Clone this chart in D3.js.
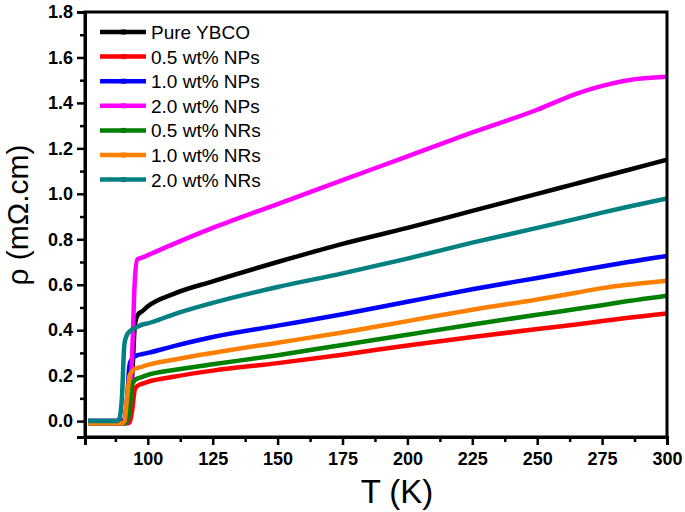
<!DOCTYPE html>
<html>
<head>
  <meta charset="UTF-8">
  <title>Resistivity vs T</title>
  <script src="https://cdn.jsdelivr.net/npm/d3@7"></script>
  <style>
    body { margin: 0; background: #fff; }
    text { font-family: Arial, "Liberation Sans", sans-serif; }
  </style>
</head>
<body>
<div class="chart"></div>
<script>
  // temperatures (K)
  var temps = [77, 80, 85, 88, 89, 90, 91, 92, 93, 94, 95, 96, 98, 100, 110, 125, 150, 175, 200, 225, 250, 265, 275, 285, 300];

  var seriesNames = ['Pure YBCO', '0.5 wt% NPs', '1.0 wt% NPs', '2.0 wt% NPs', '0.5 wt% NRs', '1.0 wt% NRs', '2.0 wt% NRs'];
  var seriesColors = ['#000000', '#ff0000', '#0000ff', '#ff00ff', '#008000', '#ff8000', '#008080'];

  // rho (mOhm.cm) for each series, same order as temps
  var pureYBCO = [0, 0, 0, 0, 0, 0, 0.005, 0.01, 0.05, 0.2, 0.42, 0.465, 0.485, 0.505, 0.56, 0.615, 0.70, 0.78, 0.85, 0.925, 1.0, 1.045, 1.075, 1.105, 1.15];
  var nps05 = [-0.01, -0.01, -0.01, -0.01, -0.01, -0.01, -0.01, -0.01, -0.005, 0.05, 0.14, 0.155, 0.165, 0.173, 0.195, 0.222, 0.255, 0.292, 0.333, 0.37, 0.405, 0.425, 0.44, 0.455, 0.474];
  var nps10 = [0, 0, 0, 0, 0, 0, 0.01, 0.1, 0.25, 0.275, 0.285, 0.29, 0.295, 0.30, 0.33, 0.37, 0.42, 0.47, 0.525, 0.58, 0.63, 0.66, 0.68, 0.70, 0.727];
  var nps20 = [-0.01, -0.01, -0.01, -0.01, -0.01, -0.01, -0.01, -0.005, 0.05, 0.3, 0.62, 0.712, 0.72, 0.73, 0.78, 0.85, 0.955, 1.06, 1.165, 1.27, 1.37, 1.44, 1.475, 1.50, 1.515];
  var nrs05 = [-0.01, -0.01, -0.01, -0.01, -0.01, -0.01, -0.01, 0, 0.05, 0.16, 0.18, 0.187, 0.195, 0.203, 0.225, 0.25, 0.29, 0.335, 0.38, 0.425, 0.468, 0.493, 0.51, 0.528, 0.552];
  var nrs10 = [-0.01, -0.01, -0.01, -0.01, -0.01, -0.01, 0, 0.1, 0.2, 0.22, 0.23, 0.234, 0.24, 0.247, 0.27, 0.30, 0.345, 0.39, 0.44, 0.49, 0.535, 0.565, 0.585, 0.60, 0.618];
  var nrs20 = [0, 0, 0, 0, 0.01, 0.1, 0.34, 0.38, 0.395, 0.403, 0.41, 0.415, 0.425, 0.43, 0.47, 0.52, 0.59, 0.65, 0.715, 0.785, 0.85, 0.89, 0.917, 0.943, 0.98];

  var xTicks = [100, 125, 150, 175, 200, 225, 250, 275, 300];
  var yTicks = [0, 0.2, 0.4, 0.6, 0.8, 1.0, 1.2, 1.4, 1.6, 1.8];

  var allSeries = [pureYBCO, nps05, nps10, nps20, nrs05, nrs10, nrs20];

  var W = 685, H = 512;
  var margin = { top: 12, right: 18, bottom: 75, left: 85 };
  var width = W - margin.left - margin.right;
  var height = H - margin.top - margin.bottom;

  var svg = d3.select('.chart').append('svg')
      .attr('width', W)
      .attr('height', H);
  var g = svg.append('g')
      .attr('transform', 'translate(' + margin.left + ',' + margin.top + ')');

  var x = d3.scaleLinear().domain([75.8, 300]).range([0, width]);
  var y = d3.scaleLinear().domain([-0.07, 1.8]).range([height, 0]);

  g.append('clipPath').attr('id', 'clip')
    .append('rect').attr('width', width).attr('height', height);

  // lines
  var line = d3.line()
    .curve(d3.curveMonotoneX)
    .x(function(d) { return x(d[0]); })
    .y(function(d) { return y(d[1]); });

  allSeries.forEach(function(vals, i) {
    var pts = temps.map(function(t, j) { return [t, vals[j]]; });
    g.append('path')
      .datum(pts)
      .attr('clip-path', 'url(#clip)')
      .attr('fill', 'none')
      .attr('stroke', seriesColors[i])
      .attr('stroke-width', 4.5)
      .attr('stroke-linejoin', 'round')
      .attr('d', line);
  });

  // frame
  g.append('rect')
    .attr('width', width).attr('height', height)
    .attr('fill', 'none').attr('stroke', '#000').attr('stroke-width', 3);

  // x axis
  g.append('g').attr('transform', 'translate(0,' + height + ')')
    .call(d3.axisBottom(x).tickValues(xTicks).tickSize(8).tickPadding(7).tickFormat(d3.format('d')));
  g.append('g').attr('transform', 'translate(0,' + height + ')')
    .call(d3.axisBottom(x).tickValues(d3.range(87.5, 300, 25)).tickSize(5).tickFormat(''))
    .select('.domain').remove();

  // y axis
  g.append('g')
    .call(d3.axisLeft(y).tickValues(yTicks).tickSize(8).tickPadding(4).tickFormat(d3.format('.1f')));
  g.append('g')
    .call(d3.axisLeft(y).tickValues(d3.range(0.1, 1.8, 0.2)).tickSize(5).tickFormat(''))
    .select('.domain').remove();

  g.selectAll('.domain').attr('stroke-width', 3);
  g.selectAll('.tick line').attr('stroke-width', 2.5);
  g.selectAll('.tick text')
    .style('font-size', '18px').style('font-weight', 'bold').attr('fill', '#000');

  // axis titles
  svg.append('text')
    .attr('x', 397).attr('y', 503)
    .attr('text-anchor', 'middle')
    .style('font-size', '33px')
    .text('T (K)');
  svg.append('text')
    .attr('transform', 'translate(28,215) rotate(-90)')
    .attr('text-anchor', 'middle')
    .style('font-size', '30px')
    .text('ρ (mΩ.cm)');

  // legend
  var legend = g.append('g').attr('transform', 'translate(15,20)');
  seriesNames.forEach(function(name, i) {
    var row = legend.append('g').attr('transform', 'translate(0,' + (i * 24.6) + ')');
    row.append('line')
      .attr('x1', 0).attr('x2', 46)
      .attr('stroke', seriesColors[i]).attr('stroke-width', 4.5);
    row.append('rect')
      .attr('x', 21).attr('y', -2.5).attr('width', 5).attr('height', 5)
      .attr('fill', seriesColors[i]);
    row.append('text')
      .attr('x', 51).attr('y', 7)
      .style('font-size', '19px')
      .text(name);
  });
</script>
</body>
</html>
